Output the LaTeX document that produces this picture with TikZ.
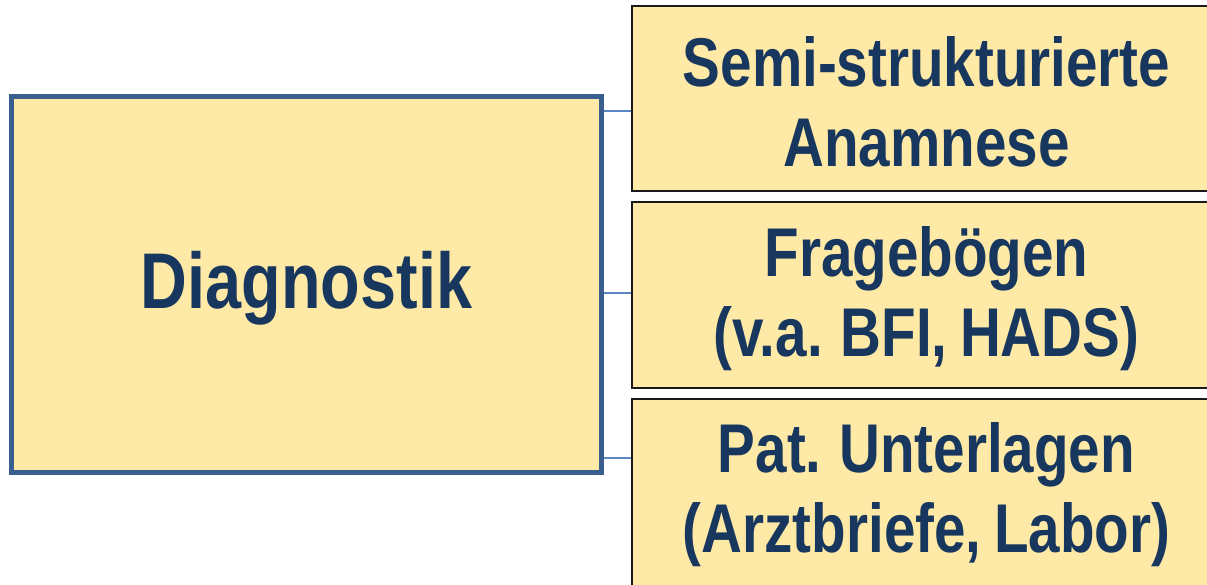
\documentclass[tikz,border=0pt]{standalone}
\usepackage{fontspec}
\newfontfamily\nar{Liberation Sans}[FakeStretch=0.82,WordSpace=0.8]
\definecolor{boxfill}{HTML}{FFE9A6}
\definecolor{bigborder}{HTML}{3A5F8F}
\definecolor{conn}{HTML}{5A86C2}
\definecolor{txt}{HTML}{17375E}
\tikzset{
  bigbox/.style={draw=bigborder, line width=5pt, fill=boxfill, minimum width=590pt, minimum height=376pt, inner sep=0pt, text=txt, font=\nar\bfseries\fontsize{79}{90}\selectfont},
  subbox/.style={draw=black!90, line width=2pt, fill=boxfill, minimum width=589pt, minimum height=185pt, inner sep=0pt, align=center, text=txt, font=\nar\bfseries\fontsize{69}{80}\selectfont},
  connector/.style={draw=conn, line width=2.2pt}
}
\begin{document}
\begin{tikzpicture}[x=1pt,y=-1pt]
\useasboundingbox (0,0) rectangle (1207,585);
\clip (0,0) rectangle (1207,585);
\node[subbox] (s1) at (926.5,98.5) {};
\node[subbox] (s2) at (926.5,295) {};
\node[subbox, minimum height=200pt] (s3) at (926.5,498.5) {};
\node[subbox, draw=none, fill=none] (t1) at (926.5,102) {Semi-strukturierte\\Anamnese};
\node[subbox, draw=none, fill=none] (t2) at (926.5,299) {Fragebögen\\(v.a. BFI, HADS)};
\node[subbox, draw=none, fill=none] (t3) at (926.5,495) {Pat. Unterlagen\\(Arztbriefe, Labor)};
\coordinate (c1) at (0,111);
\coordinate (c2) at (0,293);
\coordinate (c3) at (0,458);
\draw[connector] (c1 -| 601.5,0) -- (c1 -| s1.west);
\draw[connector] (c2 -| 601.5,0) -- (c2 -| s2.west);
\draw[connector] (c3 -| 601.5,0) -- (c3 -| s3.west);
\node[bigbox] (d) at (306.5,284.5) {};
\node[bigbox, draw=none, fill=none] (dt) at (306.5,288.5) {Diagnostik};
\end{tikzpicture}
\end{document}
